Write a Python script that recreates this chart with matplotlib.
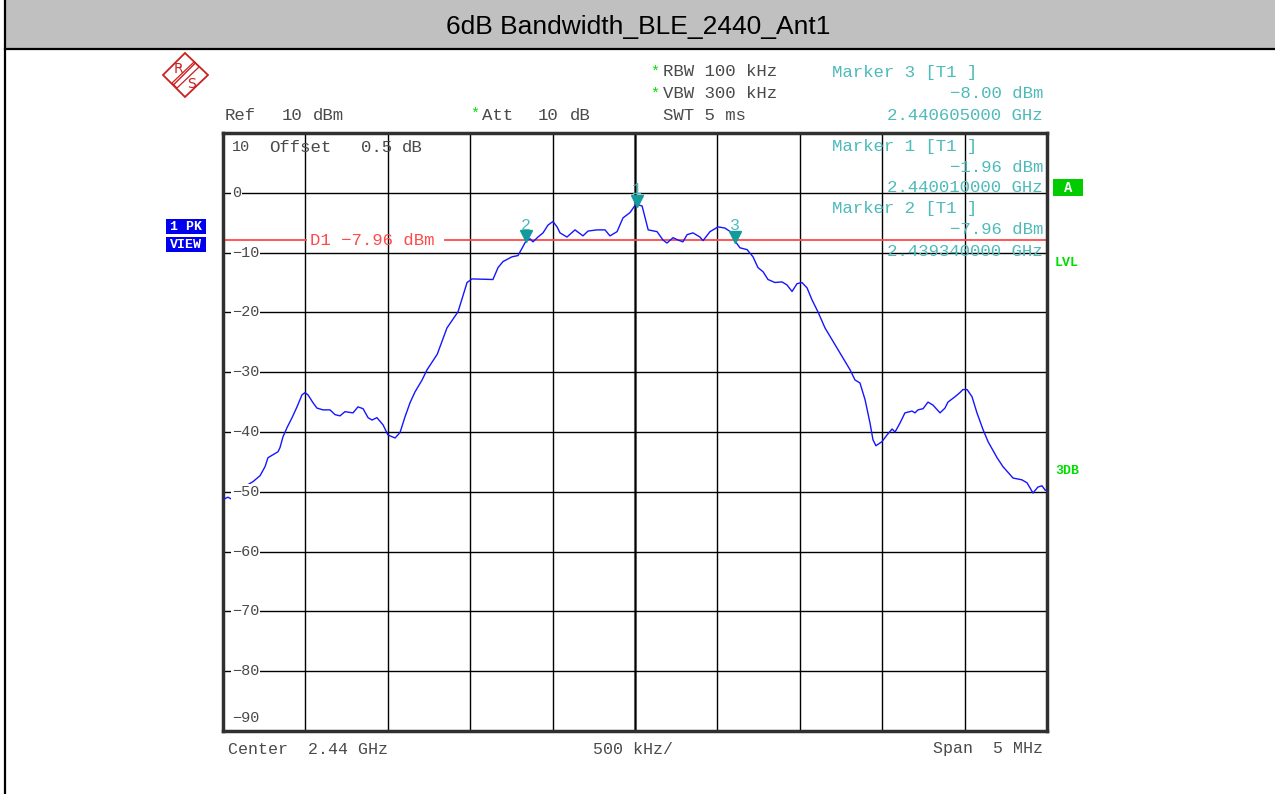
import matplotlib
matplotlib.use("Agg")
import matplotlib.pyplot as plt
from matplotlib import transforms
from matplotlib.patches import Rectangle, Polygon

# Data (frequency offset from 2.44 GHz centre in MHz, level in dBm)
freq_mhz = [-2.500, -2.470, -2.450, -2.415, -2.400, -2.379, -2.318, -2.275, -2.245, -2.227,
            -2.166, -2.154, -2.136, -2.112, -2.081, -2.051, -2.021, -2.002, -1.984, -1.954,
            -1.930, -1.893, -1.851, -1.820, -1.790, -1.760, -1.711, -1.681, -1.650, -1.620,
            -1.596, -1.566, -1.529, -1.499, -1.456, -1.426, -1.396, -1.365, -1.335, -1.292,
            -1.262, -1.200, -1.141, -1.074, -1.019, -0.989, -0.862, -0.831, -0.801, -0.746,
            -0.710, -0.680, -0.660, -0.637, -0.619, -0.589, -0.558, -0.528, -0.498, -0.473,
            -0.455, -0.413, -0.364, -0.316, -0.285, -0.231, -0.182, -0.152, -0.109, -0.073,
            -0.030, -0.005, 0.010, 0.043, 0.080, 0.134, 0.170, 0.194, 0.231, 0.261,
            0.291, 0.316, 0.352, 0.394, 0.413, 0.455, 0.504, 0.546, 0.589, 0.605,
            0.637, 0.680, 0.716, 0.746, 0.777, 0.807, 0.849, 0.892, 0.922, 0.953,
            0.983, 1.013, 1.044, 1.074, 1.110, 1.153, 1.214, 1.305, 1.335, 1.365,
            1.396, 1.426, 1.444, 1.462, 1.499, 1.529, 1.560, 1.578, 1.608, 1.638,
            1.681, 1.699, 1.717, 1.748, 1.778, 1.808, 1.851, 1.881, 1.899, 1.942,
            1.972, 1.990, 2.015, 2.045, 2.075, 2.112, 2.142, 2.197, 2.233, 2.294,
            2.348, 2.379, 2.415, 2.445, 2.470, 2.488, 2.500]
level_dbm = [-51.3, -50.9, -51.2, -50.5, -49.6, -49.3, -48.3, -47.3, -45.8, -44.3,
             -43.3, -42.6, -40.8, -39.3, -37.6, -35.8, -33.8, -33.4, -33.8, -35.1,
             -36.0, -36.3, -36.3, -37.1, -37.3, -36.6, -36.8, -35.8, -36.1, -37.6,
             -38.0, -37.6, -38.8, -40.5, -41.0, -40.1, -37.5, -35.1, -33.3, -31.3,
             -29.6, -27.0, -22.6, -19.9, -15.0, -14.4, -14.5, -12.5, -11.5, -10.7,
             -10.5, -9.0, -7.96, -7.7, -8.2, -7.4, -6.7, -5.4, -4.8, -5.7,
             -6.7, -7.4, -6.2, -7.2, -6.4, -6.2, -6.2, -7.2, -6.5, -4.2,
             -3.3, -2.3, -1.96, -2.2, -6.2, -6.5, -7.9, -8.4, -7.5, -7.9,
             -8.2, -7.0, -6.7, -7.4, -8.0, -6.5, -5.7, -5.9, -6.7, -8.00,
             -9.2, -9.5, -10.7, -12.5, -13.2, -14.5, -15.0, -14.9, -15.4, -16.5,
             -15.2, -15.0, -15.9, -17.9, -19.9, -22.6, -25.4, -29.6, -31.3, -31.8,
             -34.6, -38.5, -41.3, -42.3, -41.6, -40.5, -39.5, -40.0, -38.5, -36.8,
             -36.5, -36.8, -36.3, -36.1, -35.0, -35.5, -36.8, -36.0, -35.0, -34.1,
             -33.4, -32.9, -32.9, -34.1, -36.8, -39.6, -41.6, -44.3, -45.8, -47.7,
             -48.0, -48.5, -50.2, -49.2, -49.0, -49.7, -49.8]

marker_ids = [1, 2, 3]
marker_freq = [0.010, -0.660, 0.605]
marker_level = [-1.96, -7.96, -8.00]
d1_level = -7.96
y_ticks = [10, 0, -10, -20, -30, -40, -50, -60, -70, -80, -90]
x_ticks = [-2.5, -2.0, -1.5, -1.0, -0.5, 0.0, 0.5, 1.0, 1.5, 2.0, 2.5]

W, H = 1275, 794
MONO = ["Liberation Mono", "DejaVu Sans Mono"]
GREY = "#4a4a4a"
TEAL = "#4fbaba"
GREEN = "#00dd00"
RED = "#ff4a4a"
RS_RED = "#cc2020"

fig = plt.figure(figsize=(W / 100, H / 100), dpi=100)

# main trace axes
ax = fig.add_axes([223 / W, 1 - 731 / H, 824 / W, 598 / H])
ax.set_xlim(-2.5, 2.5)
ax.set_ylim(-90, 10)
ax.set_xticks(x_ticks)
ax.set_yticks(y_ticks)
ax.tick_params(length=0, labelleft=False, labelbottom=False)
ax.grid(True, color="black", lw=1.0)
ax.axvline(0, color="#707070", lw=2.2, zorder=0.5)
for s in ax.spines.values():
    s.set_color("#303030")
    s.set_linewidth(2.5)

ax.plot(freq_mhz, level_dbm, color="#1515ff", lw=1.0, zorder=3)

# display line D1
ax.plot([-2.5, -1.998], [d1_level, d1_level], color=RED, lw=1.3, zorder=2)
ax.plot([-1.153, 2.5], [d1_level, d1_level], color=RED, lw=1.3, zorder=2)
ax.text(-1.975, d1_level, "D1 \u22127.96 dBm", color=RED, family=MONO, fontsize=12.5,
        va="center", ha="left", zorder=4)

# markers
up = transforms.offset_copy(ax.transData, fig=fig, x=0, y=4, units="dots")
up_lbl = transforms.offset_copy(ax.transData, fig=fig, x=0, y=15, units="dots")
for mid, mf, ml in zip(marker_ids, marker_freq, marker_level):
    ax.plot(mf, ml, marker="v", color="#139a9a", ms=8, transform=up, zorder=5)
    ax.text(mf, ml, str(mid), color=TEAL, family=MONO, fontsize=12, ha="center",
            va="center", transform=up_lbl, zorder=5)

# y labels drawn inside the grid
for yt in y_ticks:
    lbl = str(yt).replace("-", "\u2212")
    yy = yt
    if yt == 10:
        yy = 7.7
    elif yt == -90:
        yy = -87.8
    ax.text(0.011, yy, lbl, transform=ax.get_yaxis_transform(), color=GREY, family=MONO,
            fontsize=11, va="center", ha="left", zorder=4,
            bbox=dict(fc="white", ec="none", pad=0.6) if yt not in (10, -90) else None)

# overlay in pixel coordinates for the instrument annotations
ov = fig.add_axes([0, 0, 1, 1], zorder=10)
ov.set_xlim(0, W)
ov.set_ylim(H, 0)
ov.set_axis_off()


def px(x, y, s, color=GREY, size=12.5, ha="left", **kw):
    ov.text(x, y, s, color=color, family=MONO, fontsize=size, ha=ha, va="center", **kw)


# header bar
ov.add_patch(Rectangle((6, 0), W - 6, 48, fc="#c0c0c0", ec="none"))
ov.plot([5, W], [48.5, 48.5], color="black", lw=1.6)
ov.plot([5, 5], [0, H], color="black", lw=1.6)
ov.text(638, 27, "6dB Bandwidth_BLE_2440_Ant1", fontsize=19, family=["Liberation Sans", "DejaVu Sans"],
        ha="center", va="center", color="black")

# R&S logo
ov.add_patch(Polygon([(185, 53), (208, 75), (185, 97), (163, 75)], closed=True, fill=False,
                     ec=RS_RED, lw=1.3))
ov.add_patch(Polygon([(194, 62), (199, 67), (177, 88), (172, 83)], closed=True,
                     fc="white", ec=RS_RED, lw=0.9, hatch="////"))
ov.text(178, 69, "R", color=RS_RED, fontsize=10, ha="center", va="center")
ov.text(191, 84, "S", color=RS_RED, fontsize=10, ha="center", va="center")

# setting texts
px(225, 116, "Ref")
px(282, 116, "10")
px(313, 116, "dBm")
px(470, 114, "*", color=GREEN, size=11)
px(482, 116, "Att")
px(538, 116, "10")
px(570, 116, "dB")
px(650, 72, "*", color=GREEN, size=11)
px(663, 72, "RBW 100 kHz")
px(650, 94, "*", color=GREEN, size=11)
px(663, 94, "VBW 300 kHz")
px(663, 116, "SWT 5 ms")
px(269, 147, "Offset")
px(361, 147, "0.5")
px(402, 147, "dB")

# marker info block
info_rows = [(3, 73), (1, 146), (2, 209)]
for mid, y0 in info_rows:
    k = marker_ids.index(mid)
    px(832, y0, "Marker %d [T1 ]" % mid, color=TEAL)
    px(1043, y0 + 21, ("%.2f dBm" % marker_level[k]).replace("-", "\u2212"), color=TEAL, ha="right")
    px(1043, y0 + 42, "%.9f GHz" % (2.44 + marker_freq[k] / 1000), color=TEAL, ha="right")

# side badges
ov.add_patch(Rectangle((166, 219), 40, 15, fc="#0000ee", ec="none"))
ov.add_patch(Rectangle((166, 237), 40, 15, fc="#0000ee", ec="none"))
px(186, 226.5, "1 PK", color="white", size=9.5, ha="center", weight="bold")
px(186, 244.5, "VIEW", color="white", size=9.5, ha="center", weight="bold")
ov.add_patch(Rectangle((1053, 179), 30, 17, fc="#00cc00", ec="none"))
px(1068, 187.5, "A", color="white", size=10, ha="center", weight="bold")
px(1055, 263, "LVL", color=GREEN, size=9.5, weight="bold")
px(1055, 471, "3DB", color=GREEN, size=9.5, weight="bold")

# bottom texts
px(228, 749, "Center  2.44 GHz", size=12)
px(593, 749, "500 kHz/", size=12)
px(1043, 749, "Span  5 MHz", size=12, ha="right")

fig.savefig("out.png", dpi=100)
